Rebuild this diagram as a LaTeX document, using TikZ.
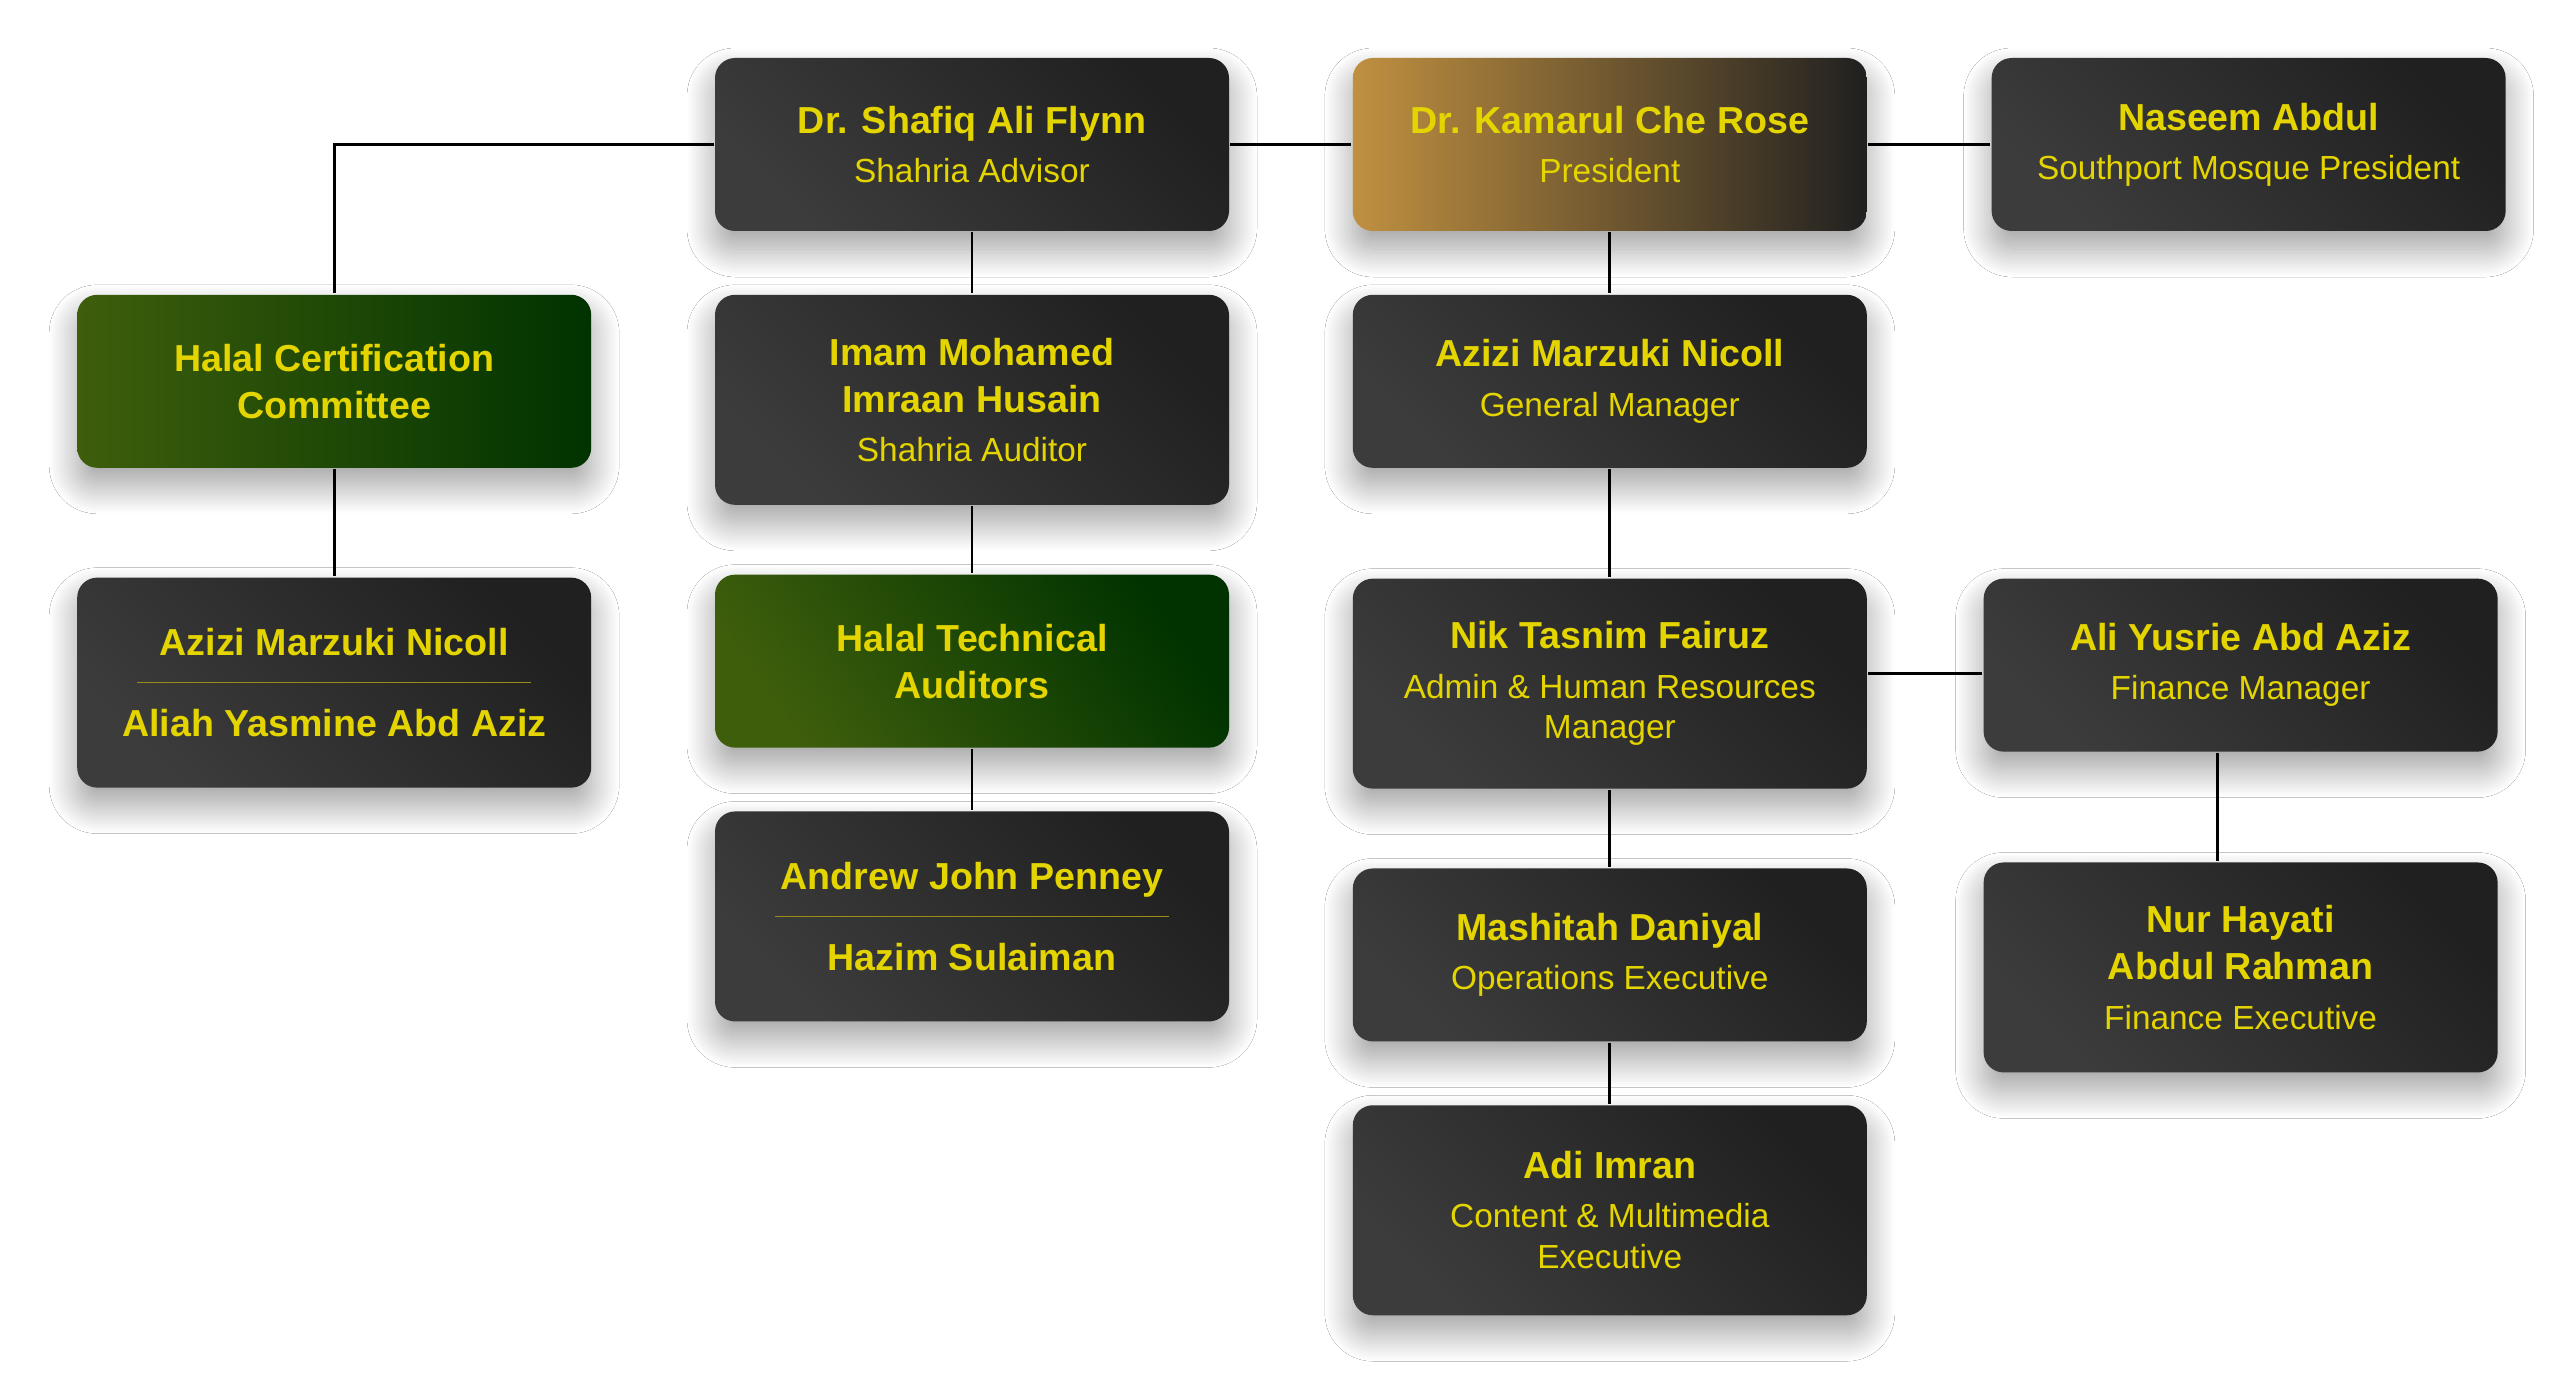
\documentclass[tikz,border=0pt]{standalone}
\usepackage{fontspec}
\setmainfont{Liberation Sans}
\usepackage{tikz}
\usetikzlibrary{positioning,shadows.blur}

\definecolor{nametext}{HTML}{E4D400}
\definecolor{boxlight}{HTML}{3C3C3C}
\definecolor{boxdark}{HTML}{202020}
\definecolor{greenlight}{HTML}{3E5E0C}
\definecolor{greendark}{HTML}{003300}
\definecolor{goldlight}{HTML}{C09040}
\definecolor{splitline}{HTML}{9A8C18}

\newcommand{\nm}{\bfseries\fontsize{10.7}{13.4}\selectfont}
\newcommand{\ttl}{\mdseries\fontsize{9.5}{11.6}\selectfont}

\begin{document}
\begin{tikzpicture}[node distance=1.21cm]
	\tikzstyle{box} = [rounded corners=0.2cm, minimum width=5.14cm, minimum height=1.73cm, inner sep=2pt, align=center, text=nametext, font=\nm, blur shadow={shadow xshift=0cm, shadow yshift=-0.18cm, shadow blur radius=0.28cm, shadow opacity=38, shadow blur steps=40}, top color=boxdark, bottom color=boxlight, shading angle=-45]
	\tikzstyle{tall} = [minimum height=2.1cm]
	\tikzstyle{greenbox} = [left color=greenlight, right color=greendark]
	\tikzstyle{goldbox} = [left color=goldlight, right color=boxdark]
	\tikzstyle{split} = [path picture={\draw[splitline, line width=0.45pt] ([xshift=0.6cm]path picture bounding box.west) -- ([xshift=-0.6cm]path picture bounding box.east);}]

	\fill[white] (0,0) rectangle (25.6,-13.77);
	\useasboundingbox (0,0) rectangle (25.6,-13.77);

	\path[thick]
	node[box] (shafiq) at (9.72,-1.445) {Dr. Shafiq Ali Flynn\\[0.6pt]{\ttl Shahria Advisor}}
	node[box, goldbox, right=of shafiq] (kamarul) {Dr. Kamarul Che Rose\\[0.6pt]{\ttl President}}
	node[box, right=1.22cm of kamarul] (naseem) {Naseem Abdul\\[0.6pt]{\ttl Southport Mosque President}}
	node[box, tall, below=0.61cm of shafiq] (imam) {Imam Mohamed\\Imraan Husain\\[0.6pt]{\ttl Shahria Auditor}}
	node[box, greenbox, anchor=north east] (cert) at ([xshift=-1.21cm]imam.north west) {Halal Certification\\Committee}
	node[box, tall, split, below=1.07cm of cert] (pair1) {Azizi Marzuki Nicoll\\[9.6pt]Aliah Yasmine Abd Aziz}
	node[box, greenbox, shading angle=125, below=0.67cm of imam] (tech) {Halal Technical\\Auditors}
	node[box, tall, split, below=0.61cm of tech] (pair2) {Andrew John Penney\\[9.6pt]Hazim Sulaiman}
	node[box, below=0.61cm of kamarul] (gm) {Azizi Marzuki Nicoll\\[0.6pt]{\ttl General Manager}}
	node[box, tall, below=1.08cm of gm] (nik) {Nik Tasnim Fairuz\\[0.6pt]{\ttl Admin \& Human Resources}\\[-1.8pt]{\ttl Manager}}
	node[box, anchor=north west] (ali) at ([xshift=1.14cm]nik.north east) {Ali Yusrie Abd Aziz\\[0.6pt]{\ttl Finance Manager}}
	node[box, below=0.77cm of nik] (mashitah) {Mashitah Daniyal\\[0.6pt]{\ttl Operations Executive}}
	node[box, tall, below=1.08cm of ali] (nur) {Nur Hayati\\Abdul Rahman\\[0.6pt]{\ttl Finance Executive}}
	node[box, tall, below=0.61cm of mashitah] (adi) {Adi Imran\\[0.6pt]{\ttl Content \& Multimedia}\\[-1.8pt]{\ttl Executive}}

	(shafiq) edge[to path={-| (\tikztotarget)}] (cert)
	(shafiq) edge (kamarul)
	(kamarul) edge (naseem)
	(shafiq) edge (imam)
	(imam) edge (tech)
	(tech) edge (pair2)
	(cert) edge (pair1)
	(kamarul) edge (gm)
	(gm) edge (nik)
	(nik) edge (mashitah)
	(mashitah) edge (adi)
	([yshift=-0.085cm]ali.west) edge ([yshift=-0.085cm]ali.west -| nik.east)
	([xshift=-0.23cm]ali.south) edge ([xshift=-0.23cm]ali.south |- nur.north)
	;
\end{tikzpicture}
\end{document}
